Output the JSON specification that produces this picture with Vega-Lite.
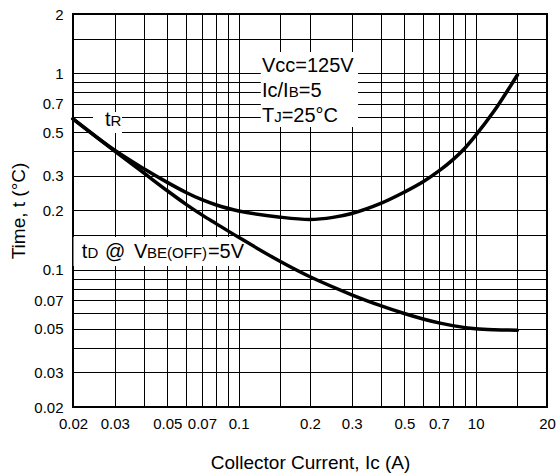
{
  "$schema": "https://vega.github.io/schema/vega-lite/v6.json",
  "width": 474,
  "height": 393,
  "autosize": {"type": "none"},
  "padding": {"left": 73, "top": 14, "right": 11, "bottom": 68},
  "background": "white",
  "config": {
    "font": "Liberation Sans",
    "view": {"stroke": "black", "strokeWidth": 2},
    "axis": {
      "grid": true,
      "gridColor": "black",
      "gridWidth": 1,
      "gridOpacity": 1,
      "ticks": false,
      "tickSize": 0,
      "domain": false,
      "labelFont": "Liberation Sans",
      "labelFontSize": 15,
      "labelColor": "black",
      "labelFlush": false,
      "labelOverlap": false,
      "labelBound": false,
      "titleFont": "Liberation Sans",
      "titleFontSize": 19,
      "titleFontWeight": "normal",
      "titleColor": "black"
    }
  },
  "datasets": {
    "curves": [
      {"series": "tR", "x": 0.02, "y": 0.585},
      {"series": "tR", "x": 0.03, "y": 0.405},
      {"series": "tR", "x": 0.04, "y": 0.325},
      {"series": "tR", "x": 0.05, "y": 0.278},
      {"series": "tR", "x": 0.06, "y": 0.247},
      {"series": "tR", "x": 0.07, "y": 0.227},
      {"series": "tR", "x": 0.08, "y": 0.214},
      {"series": "tR", "x": 0.1, "y": 0.199},
      {"series": "tR", "x": 0.15, "y": 0.185},
      {"series": "tR", "x": 0.2, "y": 0.18},
      {"series": "tR", "x": 0.25, "y": 0.1845},
      {"series": "tR", "x": 0.3, "y": 0.193},
      {"series": "tR", "x": 0.4, "y": 0.218},
      {"series": "tR", "x": 0.5, "y": 0.248},
      {"series": "tR", "x": 0.6, "y": 0.28},
      {"series": "tR", "x": 0.7, "y": 0.318},
      {"series": "tR", "x": 0.8, "y": 0.362},
      {"series": "tR", "x": 0.9, "y": 0.415},
      {"series": "tR", "x": 1.0, "y": 0.482},
      {"series": "tR", "x": 1.2, "y": 0.645},
      {"series": "tR", "x": 1.35, "y": 0.8},
      {"series": "tR", "x": 1.5, "y": 0.978},
      {"series": "tD", "x": 0.02, "y": 0.585},
      {"series": "tD", "x": 0.03, "y": 0.401},
      {"series": "tD", "x": 0.04, "y": 0.309},
      {"series": "tD", "x": 0.05, "y": 0.252},
      {"series": "tD", "x": 0.06, "y": 0.215},
      {"series": "tD", "x": 0.07, "y": 0.19},
      {"series": "tD", "x": 0.08, "y": 0.172},
      {"series": "tD", "x": 0.1, "y": 0.146},
      {"series": "tD", "x": 0.15, "y": 0.11},
      {"series": "tD", "x": 0.2, "y": 0.092},
      {"series": "tD", "x": 0.3, "y": 0.0745},
      {"series": "tD", "x": 0.4, "y": 0.0654},
      {"series": "tD", "x": 0.5, "y": 0.0598},
      {"series": "tD", "x": 0.6, "y": 0.0561},
      {"series": "tD", "x": 0.7, "y": 0.0536},
      {"series": "tD", "x": 0.8, "y": 0.0519},
      {"series": "tD", "x": 1.0, "y": 0.05},
      {"series": "tD", "x": 1.2, "y": 0.0494},
      {"series": "tD", "x": 1.5, "y": 0.0492}
    ],
    "boxes": [
      {"x": 0.124, "x2": 0.319, "y": 0.532, "y2": 1.28},
      {"x": 0.0243, "x2": 0.0322, "y": 0.496, "y2": 0.634},
      {"x": 0.0201, "x2": 0.1116, "y": 0.1044, "y2": 0.1466}
    ],
    "bigtext": [
      {"text": "Vcc=125V", "x": 0.1254, "y": 1.014},
      {"text": "Ic/I", "x": 0.1254, "y": 0.756},
      {"text": "=5", "x": 0.1794, "y": 0.756},
      {"text": "T", "x": 0.1254, "y": 0.564},
      {"text": "=25°C", "x": 0.1519, "y": 0.564},
      {"text": "t", "x": 0.0273, "y": 0.538},
      {"text": "t", "x": 0.0218, "y": 0.1146},
      {"text": "@", "x": 0.0273, "y": 0.1146},
      {"text": "V", "x": 0.0362, "y": 0.1146},
      {"text": "=5V", "x": 0.0742, "y": 0.1146}
    ],
    "smalltext": [
      {"text": "B", "x": 0.1628, "y": 0.756},
      {"text": "J", "x": 0.1413, "y": 0.564},
      {"text": "R", "x": 0.0288, "y": 0.538},
      {"text": "D", "x": 0.02304, "y": 0.1146},
      {"text": "BE(OFF)", "x": 0.04104, "y": 0.1146}
    ]
  },
  "encoding": {
    "x": {
      "field": "x",
      "type": "quantitative",
      "scale": {"type": "log", "domain": [0.02, 2], "nice": false},
      "axis": {
        "title": "Collector Current, Ic (A)",
        "values": [0.02, 0.03, 0.04, 0.05, 0.06, 0.07, 0.08, 0.09, 0.1, 0.15, 0.2, 0.3, 0.4, 0.5, 0.6, 0.7, 0.8, 0.9, 1, 1.5, 2],
        "format": "~g",
        "labelExpr": "indexof(['0.02','0.03','0.05','0.07','0.1','0.2','0.3','0.5','0.7'], datum.label) >= 0 ? datum.label : (datum.label == '1' ? '10' : (datum.label == '2' ? '20' : ''))",
        "labelPadding": 9,
        "titlePadding": 22
      }
    },
    "y": {
      "field": "y",
      "type": "quantitative",
      "scale": {"type": "log", "domain": [0.02, 2], "nice": false},
      "axis": {
        "title": "Time, t (°C)",
        "values": [0.02, 0.03, 0.04, 0.05, 0.06, 0.07, 0.08, 0.09, 0.1, 0.15, 0.2, 0.3, 0.4, 0.5, 0.6, 0.7, 0.8, 0.9, 1, 1.5, 2],
        "format": "~g",
        "labelExpr": "indexof(['0.02','0.03','0.05','0.07','0.1','0.2','0.3','0.5','0.7','1','2'], datum.label) >= 0 ? datum.label : ''",
        "labelPadding": 10,
        "titlePadding": 5
      }
    }
  },
  "layer": [
    {
      "data": {"name": "boxes"},
      "mark": {"type": "rect", "fill": "white", "stroke": null},
      "encoding": {
        "x2": {"field": "x2"},
        "y2": {"field": "y2"}
      }
    },
    {
      "data": {"name": "curves"},
      "mark": {"type": "line", "color": "black", "strokeWidth": 3.5, "interpolate": "catmull-rom", "strokeCap": "round"},
      "encoding": {
        "detail": {"field": "series"}
      }
    },
    {
      "data": {"name": "bigtext"},
      "mark": {"type": "text", "align": "left", "baseline": "alphabetic", "font": "Liberation Sans", "fontSize": 20, "color": "black"},
      "encoding": {
        "text": {"field": "text"}
      }
    },
    {
      "data": {"name": "smalltext"},
      "mark": {"type": "text", "align": "left", "baseline": "alphabetic", "font": "Liberation Sans", "fontSize": 15, "color": "black"},
      "encoding": {
        "text": {"field": "text"}
      }
    }
  ]
}
